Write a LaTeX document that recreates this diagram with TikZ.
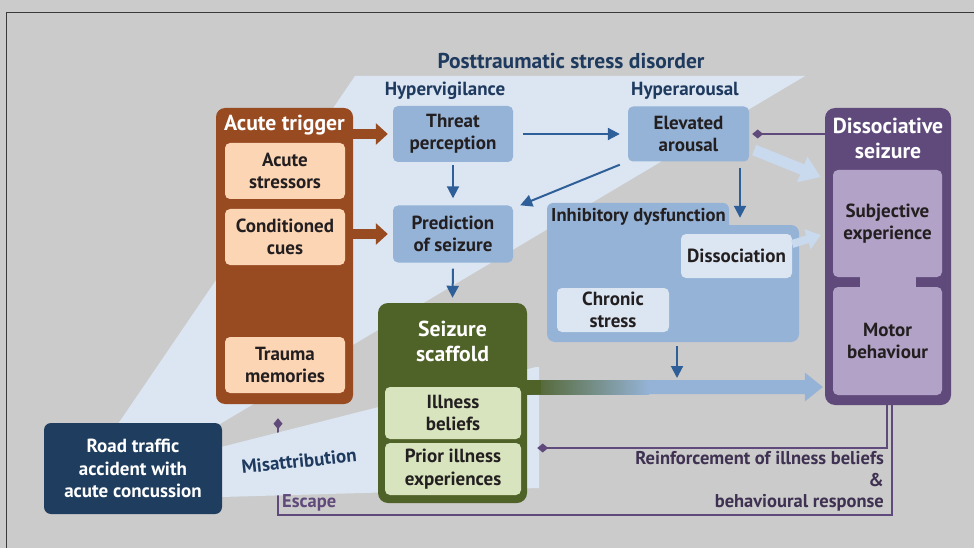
\documentclass[tikz,border=0pt]{standalone}
\usepackage{fontspec}
\setmainfont{PT Sans}
\usetikzlibrary{arrows.meta,calc}
\definecolor{bggray}{HTML}{CBCBCB}
\definecolor{framecol}{HTML}{3A3A3A}
\definecolor{ptsdc}{HTML}{DCE6F2}
\definecolor{brownc}{HTML}{984A21}
\definecolor{peach}{HTML}{FCD5B4}
\definecolor{blueb}{HTML}{95B3D7}
\definecolor{arrowblue}{HTML}{2F5F98}
\definecolor{navyt}{HTML}{1F3A5F}
\definecolor{navybox}{HTML}{1F3D5E}
\definecolor{purp}{HTML}{604A7B}
\definecolor{lilac}{HTML}{B3A2C7}
\definecolor{greenc}{HTML}{4F6228}
\definecolor{lgreen}{HTML}{D7E4BD}
\definecolor{txtdark}{HTML}{231F20}
\definecolor{dpurp}{HTML}{3F3151}
\definecolor{lightarr}{HTML}{C9DAEF}
\newcommand\dgbox{\fontsize{19}{22.5}\selectfont\bfseries}
\newcommand\dgtitle{\fontsize{21.7}{25}\selectfont\bfseries}
\newcommand\dglab{\fontsize{19}{22}\selectfont\bfseries}
\newcommand\dgptsd{\fontsize{21.5}{25}\selectfont\bfseries}
\pgfdeclarelayer{back}
\pgfdeclarelayer{mid}
\pgfsetlayers{back,mid,main}
\begin{document}
\begin{tikzpicture}[x=1pt,y=-1pt,
  innerbox/.style={rounded corners=5pt, inner sep=0pt, align=center, text=txtdark, font=\dgbox},
  peachbox/.style={innerbox, fill=peach, minimum width=120pt, minimum height=56pt},
  bluebox/.style={innerbox, fill=blueb, minimum width=120pt, minimum height=56pt},
  palebox/.style={innerbox, fill=ptsdc},
  lilacbox/.style={innerbox, fill=lilac, minimum width=109pt},
  greenbox/.style={innerbox, fill=lgreen, minimum width=136pt, minimum height=52pt},
  bigbox/.style={inner sep=0pt, rounded corners=10pt},
  whitetitle/.style={text=white, font=\dgtitle, align=center, inner sep=0pt},
  navylabel/.style={text=navyt, font=\dglab, inner sep=0pt},
  brownarrow/.style={draw=brownc, line width=10pt, -{Triangle[width=21pt,length=12pt]}},
  bluearrow/.style={draw=arrowblue, line width=2pt, -{Triangle[width=12pt,length=12pt]}},
  lightarrow/.style={draw=lightarr, line width=11pt, -{Triangle[width=26pt,length=20pt]}},
  purpline/.style={draw=purp, line width=2pt, -{Diamond[width=9pt,length=11pt]}},
]
\useasboundingbox (0,0) rectangle (974,548);
\begin{pgfonlayer}{back}
\fill[bggray] (0,0) rectangle (974,548);
\draw[framecol, line width=1.8pt] (976,12.5) -- (6.5,12.5) -- (6.5,550);
\fill[ptsdc] (355,76) -- (805,76) -- (220,424) -- (118,424) -- cycle;
\end{pgfonlayer}

% labels
\node[navylabel, font=\dgptsd] (ptsdlbl) at (571,61) {Posttraumatic stress disorder};
\node[navylabel] (hypvig) at (445,91) {Hypervigilance};
\node[navylabel] (hyparo) at (685,91) {Hyperarousal};

% acute trigger
\node[bigbox, fill=brownc, rounded corners=9pt, minimum width=137pt, minimum height=296pt] (trigger) at (284.5,256) {};
\node[whitetitle] (trigtitle) at (284.5,125) {Acute trigger};
\node[peachbox] (stressors) at (285,171) {Acute\\stressors};
\node[peachbox] (cues) at (285,237) {Conditioned\\cues};
\node[peachbox] (trauma) at (285,365) {Trauma\\memories};

% PTSD boxes
\node[bluebox] (threat) at (453,134) {Threat\\perception};
\node[bluebox, minimum height=57pt] (pred) at (453,234) {Prediction\\of seizure};
\node[bluebox, minimum width=121pt, minimum height=55pt] (elevated) at (688.5,134) {Elevated\\arousal};

% inhibitory dysfunction
\fill[blueb, rounded corners=6pt] (547,203) rectangle (729,240);
\node[bigbox, fill=blueb, rounded corners=8pt, minimum width=252pt, minimum height=117pt] (inhib) at (673,283.5) {};
\node[text=txtdark, font=\fontsize{18.6}{22}\selectfont\bfseries, anchor=west, inner sep=0pt] (inhiblbl) at (551,217) {Inhibitory dysfunction};
\node[palebox, minimum width=111pt, minimum height=44pt] (dissoc) at (736.5,256) {Dissociation};
\node[palebox, minimum width=112pt, minimum height=44pt] (chronic) at (613,310) {Chronic\\stress};

% dissociative seizure
\node[bigbox, fill=purp, minimum width=126pt, minimum height=297pt] (seizure) at (888,256.5) {};
\node[whitetitle] (seiztitle) at (888,138.5) {Dissociative\\seizure};
\fill[lilac] (860,268) rectangle (916,296);
\node[lilacbox, minimum height=107pt] (subj) at (887.5,223.5) {Subjective\\experience};
\node[lilacbox, minimum height=108pt] (motor) at (887.5,341) {Motor\\behaviour};

% seizure scaffold
\node[bigbox, fill=greenc, minimum width=149pt, minimum height=200pt] (scaffold) at (452.5,403) {};
\node[whitetitle] (scaftitle) at (452.5,341) {Seizure\\scaffold};
\node[greenbox] (beliefs) at (453,413) {Illness\\beliefs};
\node[greenbox] (prior) at (453,469) {Prior illness\\experiences};

% road traffic accident
\node[bigbox, fill=navybox, rounded corners=7pt, minimum width=178pt, minimum height=91pt, text=white, font=\dgbox, align=center] (road) at (133,468.5) {Road traffic\\accident with\\acute concussion};

% misattribution wedge and escape line (under the boxes)
\begin{pgfonlayer}{mid}
\draw[purpline] ([xshift=4pt]seizure.south) -- ++(0,109.5) -| ($(trigger.south)+(-6.5,14)$);
\fill[ptsdc] ($(road.east)+(-1,-21.5)$) -- (536,367) -- (539,367) -- (539,488) -- ($(road.east)+(-1,28.5)$) -- cycle;
\end{pgfonlayer}
\node[navylabel, rotate=6] (misattr) at (299,461) {Misattribution};
\node[text=purp, font=\fontsize{18.5}{22}\selectfont\bfseries, anchor=west, inner sep=0pt] (escape) at (282,503) {Escape};

% brown arrows
\draw[brownarrow] (trigger.east |- threat.west) -- ([xshift=-5pt]threat.west);
\draw[brownarrow] (trigger.east |- pred.west) -- ([xshift=-5pt]pred.west);

% blue arrows
\draw[bluearrow] ($(threat.east)+(10,0)$) -- ($(elevated.west)+(-8,0)$);
\draw[bluearrow] ($(threat.south)+(0,3)$) -- ($(pred.north)+(0,-7)$);
\draw[bluearrow] ($(elevated.south west)+(-8,3)$) -- ($(pred.north east)+(7,0)$);
\coordinate (ea) at ($(elevated.south)+(51.5,6)$);
\draw[bluearrow] (ea) -- ($(ea |- inhib.north)+(0,-7)$);
\draw[bluearrow] ($(pred.south)+(0,6)$) -- ($(scaffold.north)+(0,-5)$);

% big gradient arrow
\coordinate (bigS) at (scaffold.east |- 0,387);
\coordinate (bigE) at (seizure.west |- 0,387);
\fill[blueb] ($(bigS)+(0,-7)$) -- ($(bigE)+(-20,-7)$) -- ($(bigE)+(-20,-14.5)$) -- ($(bigE)+(-2,0)$) -- ($(bigE)+(-20,14.5)$) -- ($(bigE)+(-20,7)$) -- ($(bigS)+(0,7)$) -- cycle;
\shade[left color=greenc, right color=blueb] ($(bigS)+(0,-7)$) rectangle ($(bigS)+(122,7)$);
\fill[greenc] ($(bigS)+(0,-7)$) rectangle ($(bigS)+(14,7)$);
\coordinate (ib) at ($(inhib.south)+(4,4)$);
\draw[bluearrow] (ib) -- ($(ib |- bigS)+(0,-9)$);

% light arrows into the seizure
\draw[lightarrow] ($(elevated.east)+(5,16)$) -- ($(seizure.west)+(-4,-79.5)$);
\draw[lightarrow, line width=8pt, -{Triangle[width=20pt,length=14pt]}] ($(dissoc.east)+(0,-12)$) -- ($(seizure.west)+(-4,-21.5)$);

% purple feedback lines
\draw[purpline] (seizure.west |- elevated.east) -- ($(elevated.east)+(3,0)$);
\draw[purpline] ([xshift=-1pt]seizure.south) |- ($(scaffold.east)+(10,45)$);
\node[text=dpurp, font=\fontsize{18.5}{21.5}\selectfont\bfseries, align=right, anchor=east, inner sep=0pt] (reinf) at (884,481.5) {Reinforcement of illness beliefs\\\&\\behavioural response};
\end{tikzpicture}
\end{document}
